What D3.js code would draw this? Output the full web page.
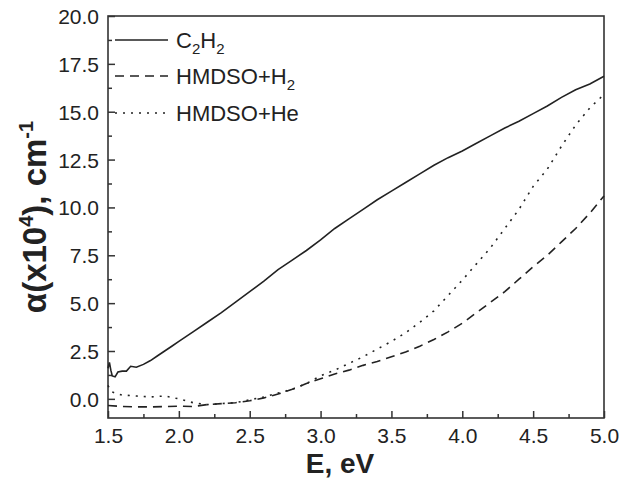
<!DOCTYPE html>
<html><head><meta charset="utf-8">
<script src="https://cdn.jsdelivr.net/npm/d3@7"></script>
<style>body{margin:0;background:#fff}svg{display:block}text{font-family:"Liberation Sans",Arial,sans-serif;fill:#222}</style>
</head><body><svg id="c" width="629" height="480"></svg>
<script>
const energy = [1.50,1.51,1.52,1.53,1.55,1.57,1.60,1.63,1.66,1.70,1.75,1.80,1.85,1.90,1.95,2.00,2.05,2.10,2.20,2.30,2.40,2.50,2.60,2.70,2.80,2.90,3.00,3.10,3.20,3.30,3.40,3.50,3.60,3.70,3.80,3.90,4.00,4.10,4.20,4.30,4.40,4.50,4.60,4.70,4.80,4.90,5.00];
const c2h2 = [1.6,1.9,1.5,1.2,1.15,1.4,1.45,1.45,1.7,1.65,1.8,2.0,2.25,2.5,2.75,3.0,3.25,3.5,4.0,4.5,5.05,5.6,6.15,6.75,7.25,7.75,8.3,8.9,9.4,9.9,10.4,10.85,11.3,11.75,12.2,12.6,12.95,13.35,13.75,14.15,14.5,14.9,15.3,15.75,16.15,16.45,16.85];
const hmdsoH2E = [1.50,1.60,1.70,1.80,1.90,2.00,2.10,2.20,2.30,2.40,2.50,2.60,2.70,2.80,2.90,3.00,3.10,3.20,3.30,3.40,3.50,3.60,3.70,3.80,3.90,4.00,4.10,4.20,4.30,4.40,4.50,4.60,4.70,4.80,4.90,5.00];
const hmdsoH2 = [-0.35,-0.4,-0.42,-0.42,-0.4,-0.38,-0.4,-0.3,-0.25,-0.2,-0.1,0.05,0.25,0.5,0.8,1.05,1.3,1.5,1.75,1.95,2.2,2.45,2.75,3.1,3.5,3.95,4.5,5.05,5.6,6.25,6.9,7.5,8.2,8.9,9.7,10.6];
const hmdsoHeE = [1.50,1.52,1.55,1.60,1.70,1.80,1.90,2.00,2.10,2.20,2.30,2.40,2.50,2.60,2.70,2.80,2.90,3.00,3.10,3.20,3.30,3.40,3.50,3.60,3.70,3.80,3.90,4.00,4.10,4.20,4.30,4.40,4.50,4.60,4.70,4.80,4.90,5.00];
const hmdsoHe = [0.7,0.4,0.3,0.2,0.15,0.1,0.15,0.0,-0.2,-0.3,-0.25,-0.2,-0.05,0.1,0.3,0.5,0.8,1.2,1.5,1.85,2.2,2.6,3.0,3.45,4.0,4.6,5.4,6.2,7.05,7.9,8.9,9.9,11.1,12.0,13.2,14.3,15.2,15.9];
const xTicks = [1.5,2.0,2.5,3.0,3.5,4.0,4.5,5.0];
const yTicks = [0,2.5,5,7.5,10,12.5,15,17.5,20];

const svg = d3.select("#c");
const L=108,R=604,T=16,B=418;
const x = d3.scaleLinear().domain([1.5,5.0]).range([L,R]);
const y = d3.scaleLinear().domain([-1,20]).range([B,T]);

const xMinor = d3.range(1.75,5.0,0.5);
const yMinor = d3.range(1.25,20,2.5);
const ink="#333";
const gx = svg.append("g").attr("transform",`translate(0,${B})`)
  .call(d3.axisBottom(x).tickValues(xTicks).tickSizeInner(-7).tickSizeOuter(0).tickPadding(10).tickFormat(d3.format(".1f")));
const gxm = svg.append("g").attr("transform",`translate(0,${B})`)
  .call(d3.axisBottom(x).tickValues(xMinor).tickSize(-4).tickFormat(""));
const gy = svg.append("g").attr("transform",`translate(${L},0)`)
  .call(d3.axisLeft(y).tickValues(yTicks).tickSizeInner(-7).tickSizeOuter(0).tickPadding(9).tickFormat(d3.format(".1f")));
const gym = svg.append("g").attr("transform",`translate(${L},0)`)
  .call(d3.axisLeft(y).tickValues(yMinor).tickSize(-4).tickFormat(""));
[gx,gxm,gy,gym].forEach(g=>{g.select(".domain").remove();g.selectAll("line").attr("stroke",ink).attr("stroke-width",1.5);
  g.selectAll("text").attr("font-size",21).attr("fill","#222").attr("font-family","Liberation Sans, Arial, sans-serif");});
gy.selectAll("text").attr("dy","0.36em");

svg.append("rect").attr("x",L).attr("y",T).attr("width",R-L).attr("height",B-T)
  .attr("fill","none").attr("stroke",ink).attr("stroke-width",1.6);

const line = d3.line().x(d=>x(d[0])).y(d=>y(d[1]));
const series = [
  {name:"C2H2", e:energy, v:c2h2, dash:null},
  {name:"H2", e:hmdsoH2E, v:hmdsoH2, dash:"9,6"},
  {name:"He", e:hmdsoHeE, v:hmdsoHe, dash:"2,6"}
];
series.forEach(s=>{
  svg.append("path").datum(s.e.map((e,i)=>[e,s.v[i]]))
    .attr("d",line).attr("fill","none").attr("stroke","#222").attr("stroke-width",1.6)
    .attr("stroke-dasharray",s.dash);
});

const ly=[40,76,113];
series.forEach((s,i)=>{
  svg.append("line").attr("x1",115).attr("x2",168).attr("y1",ly[i]).attr("y2",ly[i])
    .attr("stroke","#222").attr("stroke-width",1.6).attr("stroke-dasharray",s.dash);
});
const lt = svg.append("g").attr("font-size",22);
const t1 = lt.append("text").attr("x",176).attr("y",ly[0]+8);
t1.append("tspan").text("C");
t1.append("tspan").text("2").attr("font-size",15).attr("dy",6);
t1.append("tspan").text("H").attr("dy",-6);
t1.append("tspan").text("2").attr("font-size",15).attr("dy",6);
const t2 = lt.append("text").attr("x",176).attr("y",ly[1]+8);
t2.append("tspan").text("HMDSO+H");
t2.append("tspan").text("2").attr("font-size",15).attr("dy",6);
lt.append("text").attr("x",176).attr("y",ly[2]+8).text("HMDSO+He");

svg.append("text").attr("x",340).attr("y",473).attr("text-anchor","middle")
  .attr("font-size",28).attr("font-weight","bold").text("E, eV");
const yt = svg.append("text").attr("transform",`translate(46,${(T+B)/2}) rotate(-90)`)
  .attr("text-anchor","middle").attr("font-size",33).attr("font-weight","bold");
yt.append("tspan").text("α(x10");
yt.append("tspan").text("4").attr("font-size",20).attr("dy",-13);
yt.append("tspan").text("), cm").attr("dy",13);
yt.append("tspan").text("-1").attr("font-size",20).attr("dy",-13);
</script></body></html>
